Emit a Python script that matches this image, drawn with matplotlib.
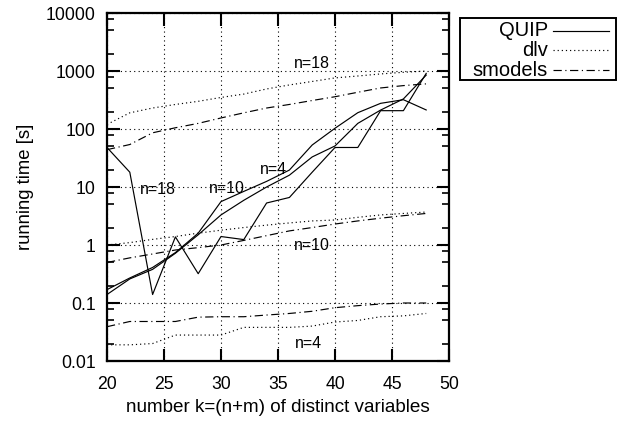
import matplotlib
matplotlib.use("Agg")
import matplotlib.pyplot as plt
from matplotlib.lines import Line2D
from matplotlib.patches import Rectangle
from matplotlib.ticker import FixedLocator, LogLocator, NullFormatter

plt.rcParams['font.family'] = ['Liberation Sans', 'DejaVu Sans']

k = [20, 22, 24, 26, 28, 30, 32, 34, 36, 38, 40, 42, 44, 46, 48]

quip_n4 = [0.14, 0.26, 0.38, 0.72, 1.5, 3.3, 5.9, 10, 16, 33, 51, 125, 212, 330, 850]
quip_n10 = [0.17, 0.27, 0.41, 0.74, 1.6, 5.6, 8.4, 12.5, 19.6, 53, 103, 191, 277, 320, 213]
quip_n18 = [48, 18, 0.14, 1.38, 0.32, 1.4, 1.24, 5.3, 6.6, 18, 48, 48, 207, 207, 910]

dlv_n4 = [0.019, 0.019, 0.02, 0.028, 0.028, 0.028, 0.038, 0.038, 0.038, 0.04, 0.047, 0.05, 0.058, 0.06, 0.066]
dlv_n10 = [1.0, 1.1, 1.25, 1.4, 1.6, 1.8, 2.0, 2.2, 2.4, 2.6, 2.7, 3.0, 3.3, 3.5, 3.7]
dlv_n18 = [120, 190, 230, 265, 300, 350, 400, 490, 575, 660, 760, 820, 890, 950, 1000]

smodels_n4 = [0.039, 0.048, 0.048, 0.048, 0.057, 0.058, 0.058, 0.062, 0.066, 0.072, 0.083, 0.09, 0.096, 0.1, 0.1]
smodels_n10 = [0.5, 0.6, 0.7, 0.82, 0.9, 1.0, 1.2, 1.45, 1.75, 2.0, 2.3, 2.6, 2.9, 3.2, 3.5]
smodels_n18 = [44, 54, 86, 105, 125, 155, 190, 230, 265, 310, 360, 430, 510, 560, 600]

series_labels = ["QUIP", "dlv", "smodels"]
annotations = [("n=18", 38.0, 1360), ("n=18", 24.5, 9.0), ("n=10", 30.5, 9.5),
               ("n=4", 34.6, 20), ("n=10", 38.0, 0.99), ("n=4", 37.7, 0.0204)]

xticks = [20, 25, 30, 35, 40, 45, 50]
yticks = [0.01, 0.1, 1, 10, 100, 1000, 10000]
ytick_labels = ["0.01", "0.1", "1", "10", "100", "1000", "10000"]

fig = plt.figure(figsize=(6.18, 4.26), dpi=100)
ax = fig.add_axes([107/618, 1-361/426, (449-107)/618, (361-13)/426])

solid = '-'
dotted = (0, (1, 2.5))
dashdot = (0, (7, 3, 1, 3))
lw = 0.85

for ys in (quip_n4, quip_n10, quip_n18):
    ax.plot(k, ys, color='black', lw=lw, linestyle=solid)
for ys in (dlv_n4, dlv_n10, dlv_n18):
    ax.plot(k, ys, color='black', lw=lw, linestyle=dotted)
for ys in (smodels_n4, smodels_n10, smodels_n18):
    ax.plot(k, ys, color='black', lw=lw, linestyle=dashdot)

for txt, x, y in annotations:
    ax.text(x, y, txt, ha='center', va='center', fontsize=11.5)

ax.set_yscale('log')
ax.set_xlim(20, 50)
ax.set_ylim(0.01, 10000)
ax.xaxis.set_major_locator(FixedLocator(xticks))
ax.set_xticklabels([str(t) for t in xticks])
ax.yaxis.set_major_locator(FixedLocator(yticks))
ax.set_yticklabels(ytick_labels)
ax.yaxis.set_minor_locator(LogLocator(base=10, subs=(2, 5, 8), numticks=20))
ax.yaxis.set_minor_formatter(NullFormatter())

ax.grid(True, which='major', color='black', linestyle=(0, (1, 3)), lw=0.8)
ax.tick_params(axis='both', which='major', direction='in', length=9, width=1.5,
               top=True, right=True, labelsize=12.7, pad=8)
ax.tick_params(axis='y', which='minor', direction='in', length=5, width=1.2,
               left=True, right=True)
ax.tick_params(axis='x', which='major', pad=11)
for s in ax.spines.values():
    s.set_linewidth(1.6)

ax.set_xlabel("number k=(n+m) of distinct variables", fontsize=13.6, labelpad=4)
ax.set_ylabel("running time [s]", fontsize=13.3, labelpad=9)

# legend (gnuplot style: right-aligned text, sample line to the right)
fig.add_artist(Rectangle((460/618, 1-80/426), (616-460)/618, (80-18)/426,
                         transform=fig.transFigure, fill=False, edgecolor='black', lw=1.4))
rows = [31, 50, 70]
styles = [solid, dotted, dashdot]
for lab, row, st in zip(series_labels, rows, styles):
    yy = 1 - row/426
    fig.text(548/618, yy, lab, ha='right', va='center', fontsize=14.5)
    fig.add_artist(Line2D([553/618, 609/618], [yy, yy], transform=fig.transFigure,
                          color='black', lw=lw, linestyle=st))

fig.savefig("out.png", dpi=100)
